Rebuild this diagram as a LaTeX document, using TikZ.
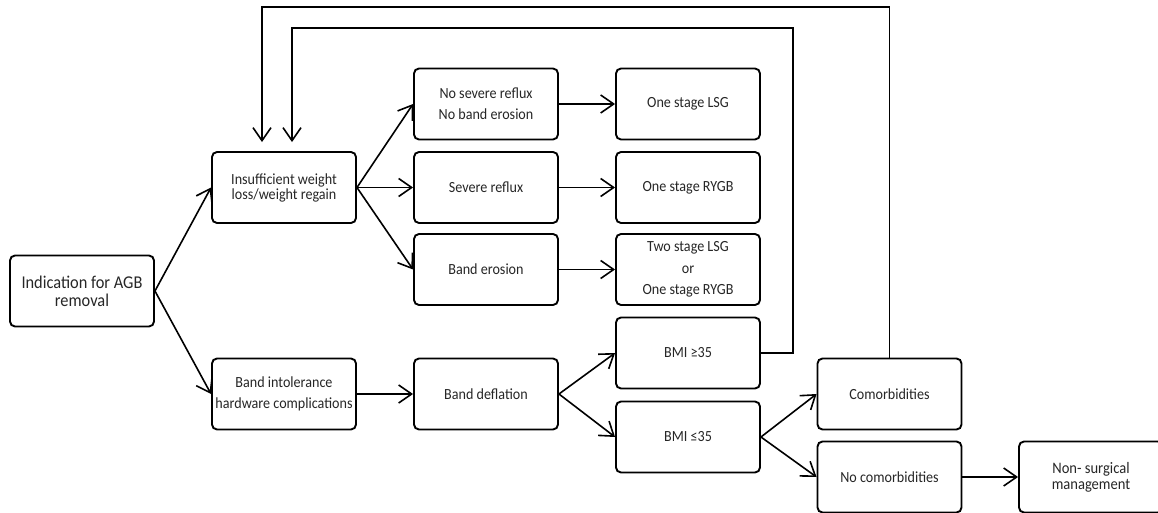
\documentclass[tikz,border=0pt]{standalone}
\usepackage{fontspec}
\setmainfont{Carlito}[FakeStretch=0.91]
\usetikzlibrary{arrows.meta, calc}

\begin{document}
\begin{tikzpicture}[
    x=1pt, y=-1pt,
    box/.style={
        draw, rounded corners=5pt, line width=1.9pt, align=center,
        minimum width=144pt, minimum height=71pt, inner sep=1pt,
        text=black!85, font=\fontsize{15.5}{15}\selectfont
    },
    link/.style={
        line width=1.6pt, -{Straight Barb[length=13pt, width=18pt]}
    }
]
\useasboundingbox (0,0) rectangle (1158,513);

% Starting point
\node[box, font=\fontsize{18}{18}\selectfont] (start) at (82, 291) {Indication for AGB\\removal};

% Reasons for removal
\node[box] (weight) at (284, 187.5) {Insufficient weight\\loss/weight regain};
\node[box] (intol) at (284, 394) {Band intolerance\\[6pt]hardware complications};

% Findings
\node[box] (noreflux) at (486, 104) {No severe reflux\\[6pt]No band erosion};
\node[box] (reflux) at (486, 187.5) {Severe reflux};
\node[box] (erosion) at (486, 269.5) {Band erosion};
\node[box] (deflate) at (486, 394) {Band deflation};

% Surgical options and BMI
\node[box] (lsg) at (688, 104) {One stage LSG};
\node[box] (rygb) at (688, 187.5) {One stage RYGB};
\node[box] (twostage) at (688, 269.5) {Two stage LSG\\[6.5pt]or\\[6.5pt]One stage RYGB};
\node[box] (bmihi) at (688, 353) {BMI ≥35};
\node[box] (bmilo) at (688, 437) {BMI ≤35};

% Comorbidities
\node[box] (comor) at (889.5, 394) {Comorbidities};
\node[box] (nocomor) at (889.5, 477) {No comorbidities};
\node[box, font=\fontsize{16}{15.7}\selectfont] (nonsurg) at (1091, 477) {Non- surgical\\management};

% Arrows
\draw[link] (start.east) -- (weight.west);
\draw[link] (start.east) -- (intol.west);
\draw[link] (weight.east) -- (noreflux.west);
\draw[link] (weight.east) -- (reflux.west);
\draw[link] (weight.east) -- (erosion.west);
\draw[link] (intol.east) -- (deflate.west);
\draw[link] (noreflux.east) -- (lsg.west);
\draw[link] (reflux.east) -- (rygb.west);
\draw[link] (erosion.east) -- (twostage.west);
\draw[link] (deflate.east) -- (bmihi.west);
\draw[link] (deflate.east) -- (bmilo.west);
\draw[link] (bmilo.east) -- (comor.west);
\draw[link] (bmilo.east) -- (nocomor.west);
\draw[link] (nocomor.east) -- (nonsurg.west);

% Loops back
\draw[link, shorten >=9pt] (bmihi.east) -| (793, 28) -| ($(weight.north)+(8,0)$);
\draw[link, shorten >=9pt] (comor.north) |- (262, 7) -- ($(weight.north)+(-22,0)$);

\end{tikzpicture}
\end{document}
